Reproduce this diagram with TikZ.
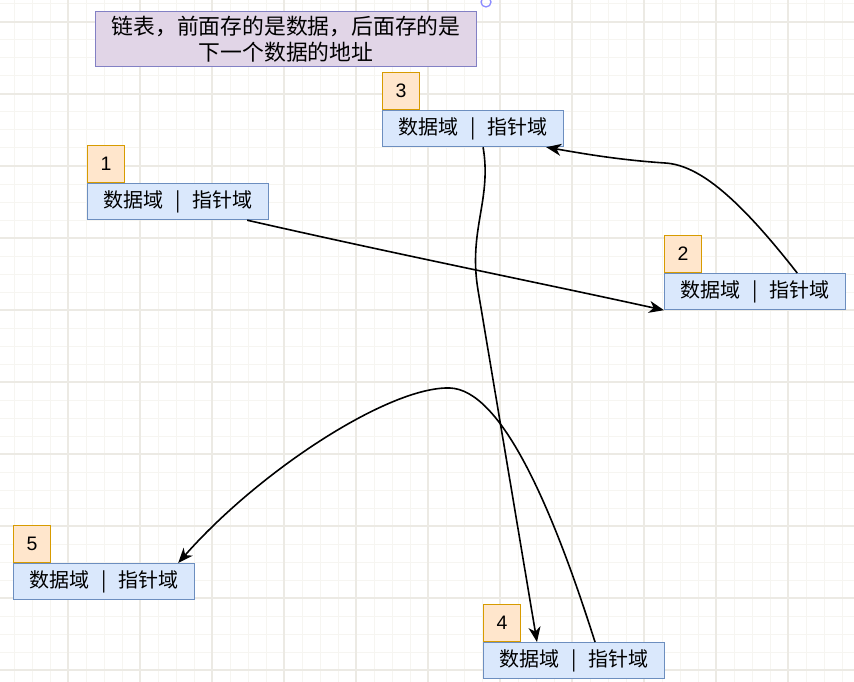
\documentclass[tikz,border=0pt]{standalone}
\usepackage{fontspec}
\setmainfont{Liberation Sans}
\newfontfamily\cjk{Noto Sans CJK SC}
\usetikzlibrary{positioning,calc,arrows.meta}
\definecolor{gridlo}{RGB}{246,245,241}
\definecolor{gridhi}{RGB}{236,234,228}
\definecolor{datafill}{RGB}{218,232,252}
\definecolor{dataline}{RGB}{108,142,191}
\definecolor{numfill}{RGB}{255,230,204}
\definecolor{numline}{RGB}{215,155,0}
\definecolor{notefill}{RGB}{225,213,231}
\definecolor{noteline}{RGB}{130,128,196}

\begin{document}
\begin{tikzpicture}[x=1pt,y=-1pt]
\tikzset{
  datab/.style={draw=dataline, fill=datafill, line width=1.2pt, minimum width=181, minimum height=36, inner sep=0pt, anchor=north west, font=\cjk\fontsize{20}{22}\selectfont},
  numb/.style={draw=numline, fill=numfill, line width=1.2pt, minimum width=37, minimum height=37, inner sep=0pt, anchor=south west, font=\fontsize{19.5}{22}\selectfont},
  note/.style={draw=noteline, fill=notefill, line width=1.2pt, minimum width=381, minimum height=55, inner sep=0pt, anchor=north west, align=center, font=\cjk\fontsize{21.8}{26}\selectfont},
  link/.style={-{Stealth[length=15pt,width=12pt,inset=4.5pt]}, line width=1.6pt, black}
}
\fill[white] (0,0) rectangle (854,682);
\useasboundingbox (0,0) rectangle (854,682);
\foreach \x in {-4,14,...,860} \draw[gridlo, line width=1pt] (\x,0) -- (\x,682);
\foreach \y in {4,22,...,682} \draw[gridlo, line width=1pt] (0,\y) -- (854,\y);
\foreach \x in {-4,68,...,860} \draw[gridhi, line width=1.2pt] (\x,0) -- (\x,682);
\foreach \y in {22,94,...,682} \draw[gridhi, line width=1.2pt] (0,\y) -- (854,\y);
\draw[blue!45, line width=1.3pt] (486,2) circle (5);

\node[note] (memo) at (95,11) {链表，前面存的是数据，后面存的是\\下一个数据的地址};

\node[datab] (d1) at (87,183) {数据域\hspace{0.6em}|\hspace{0.6em}指针域};
\node[datab] (d2) at (664,273) {数据域\hspace{0.6em}|\hspace{0.6em}指针域};
\node[datab] (d3) at (382,110) {数据域\hspace{0.6em}|\hspace{0.6em}指针域};
\node[datab] (d4) at (483,642) {数据域\hspace{0.6em}|\hspace{0.6em}指针域};
\node[datab] (d5) at (13,563) {数据域\hspace{0.6em}|\hspace{0.6em}指针域};
\node[numb] (n1) at (d1.north west) {1};
\node[numb] (n2) at (d2.north west) {2};
\node[numb] (n3) at (d3.north west) {3};
\node[numb] (n4) at (d4.north west) {4};
\node[numb] (n5) at (d5.north west) {5};

\draw[link] ([xshift=-22]d1.south east) .. controls (400,255) and (550,285) .. (d2.south west);
\draw[link] ([xshift=-49]d2.north east) .. controls (740,200) and (700,165) .. (665,163)
  .. controls (620,160) and (585,154) .. ([xshift=-18]d3.south east);
\draw[link] ([xshift=10]d3.south) .. controls (492,200) and (468,230) .. (478,290)
  -- ([xshift=54]d4.north west);
\draw[link] ([xshift=112]d4.north west) .. controls (550,500) and (500,390) .. (450,388)
  .. controls (390,386) and (260,470) .. ([xshift=-17]d5.north east);
\end{tikzpicture}
\end{document}
